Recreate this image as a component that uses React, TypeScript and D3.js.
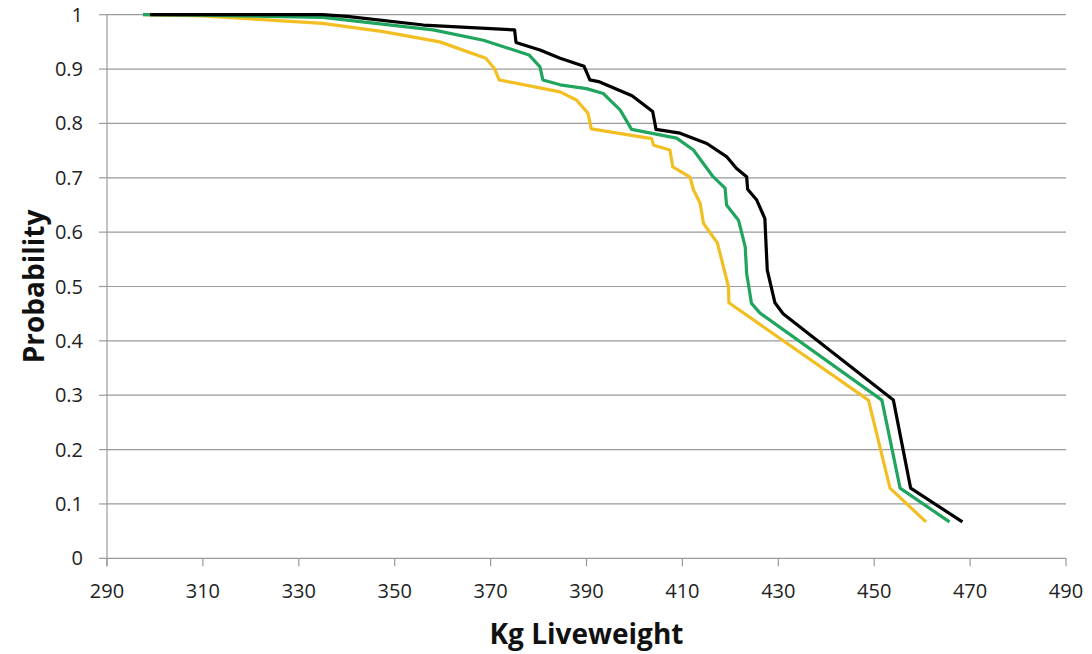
import React from "react";
import * as d3 from "d3";

const xTicks = [290, 310, 330, 350, 370, 390, 410, 430, 450, 470, 490];
const yTicks = [0, 0.1, 0.2, 0.3, 0.4, 0.5, 0.6, 0.7, 0.8, 0.9, 1];

const blackKg = [299, 335, 340, 356, 375, 375.3, 380.3, 384.5, 389.5, 390.7, 392.5, 399.5, 403.8, 404.5, 409.5, 415.1, 419.2, 421.3, 423.4, 423.6, 425.5, 427.2, 427.4, 427.7, 429.3, 431, 454, 457.6, 468.4];
const blackProb = [1, 1, 0.997, 0.981, 0.972, 0.949, 0.935, 0.92, 0.905, 0.88, 0.877, 0.851, 0.822, 0.789, 0.782, 0.763, 0.739, 0.717, 0.702, 0.679, 0.659, 0.625, 0.586, 0.53, 0.47, 0.45, 0.291, 0.129, 0.067];

const greenKg = [297.5, 310, 335, 358, 368.5, 378, 380.3, 380.9, 384.5, 390, 393.5, 394.9, 397, 399.4, 405.3, 408.8, 412.3, 416.4, 418.9, 419.2, 421.7, 423.1, 423.4, 424.4, 426.2, 451.6, 455.4, 465.7];
const greenProb = [1, 0.999, 0.995, 0.972, 0.953, 0.926, 0.904, 0.88, 0.871, 0.864, 0.855, 0.843, 0.825, 0.789, 0.779, 0.773, 0.751, 0.702, 0.681, 0.65, 0.622, 0.573, 0.524, 0.469, 0.451, 0.291, 0.129, 0.067];

const yellowKg = [297.5, 310, 335, 347.6, 359.4, 369, 370.8, 371.8, 384.5, 387.9, 390.3, 391, 403.6, 404, 407.4, 408, 411.6, 412.3, 413.7, 414.4, 417.3, 419.6, 419.7, 448.8, 453.3, 460.8];
const yellowProb = [1, 0.998, 0.984, 0.969, 0.95, 0.92, 0.901, 0.88, 0.858, 0.843, 0.819, 0.79, 0.772, 0.76, 0.751, 0.72, 0.701, 0.678, 0.653, 0.616, 0.58, 0.5, 0.47, 0.291, 0.129, 0.067];

const series = [
  { name: "yellow", kg: yellowKg, prob: yellowProb, color: "#F2BE22" },
  { name: "green", kg: greenKg, prob: greenProb, color: "#1FA55E" },
  { name: "black", kg: blackKg, prob: blackProb, color: "#000000" },
];

export default function App() {
  const W = 1092, H = 654;
  const left = 107, right = 1066, top = 14.7, bottom = 558.3;
  const x = d3.scaleLinear().domain([290, 490]).range([left, right]);
  const y = d3.scaleLinear().domain([0, 1]).range([bottom, top]);
  const font = "'Open Sans', sans-serif";

  return (
    <svg width={W} height={H} style={{ position: "absolute", left: 0, top: 0, background: "#fff" }}>
      <rect width={W} height={H} fill="#fff" />
      {yTicks.map((t) => (
        <g key={"y" + t}>
          {t > 0 && <line x1={left} x2={right} y1={y(t)} y2={y(t)} stroke="#9a9a9a" strokeWidth={1.2} />}
          <line x1={left - 8} x2={left} y1={y(t)} y2={y(t)} stroke="#9a9a9a" strokeWidth={1.2} />
          <text x={83} y={y(t)} dy="0.35em" textAnchor="end" fontFamily={font} fontSize={20} fill="#222">
            {d3.format("")(t)}
          </text>
        </g>
      ))}
      <line x1={left} x2={left} y1={top} y2={bottom + 8} stroke="#9a9a9a" strokeWidth={1.2} />
      <line x1={left} x2={right} y1={bottom} y2={bottom} stroke="#9a9a9a" strokeWidth={1.2} />
      {xTicks.map((t) => (
        <g key={"x" + t}>
          <line x1={x(t)} x2={x(t)} y1={bottom} y2={bottom + 8} stroke="#9a9a9a" strokeWidth={1.2} />
          <text x={x(t)} y={598} textAnchor="middle" fontFamily={font} fontSize={20} fill="#222">
            {t}
          </text>
        </g>
      ))}
      {series.map((s) => {
        const pts: [number, number][] = s.kg.map((k, i) => [k, s.prob[i]]);
        const line = d3.line<[number, number]>().x((d) => x(d[0])).y((d) => y(d[1]));
        return <path key={s.name} d={line(pts) || ""} fill="none" stroke={s.color} strokeWidth={3.2} strokeLinejoin="round" />;
      })}
      <text x={(left + right) / 2} y={644} textAnchor="middle" fontFamily={font} fontWeight="bold" fontSize={28} fill="#111">
        Kg Liveweight
      </text>
      <text transform={`translate(44, ${(top + bottom) / 2}) rotate(-90)`} textAnchor="middle" fontFamily={font} fontWeight="bold" fontSize={28} fill="#111">
        Probability
      </text>
    </svg>
  );
}
